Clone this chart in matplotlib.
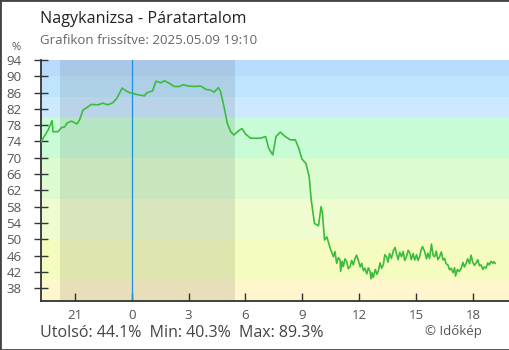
import numpy as np
import matplotlib
matplotlib.use("Agg")
from matplotlib import pyplot as plt
from matplotlib.patches import Rectangle

plt.rcParams['font.family'] = ['Open Sans', 'DejaVu Sans']

# hours relative to midnight of 2025.05.09 (negative = previous evening)
hours = [-4.83, -4.67, -4.41, -4.20, -4.15, -3.88, -3.71, -3.53, -3.41, -3.18,
         -3.01, -2.89, -2.75, -2.57, -2.31, -2.13, -1.78, -1.52, -1.26, -1.00,
         -0.79, -0.50, -0.29, -0.12, 0.14, 0.40, 0.67, 0.76, 0.93, 1.10,
         1.28, 1.54, 1.72, 1.98, 2.24, 2.50, 2.71, 3.03, 3.29, 3.64,
         3.91, 4.17, 4.34, 4.57, 4.69, 4.87, 5.04, 5.22, 5.39, 5.56,
         5.74, 5.83, 6.01, 6.27, 6.53, 6.79, 7.06, 7.23, 7.44, 7.61,
         7.84, 8.10, 8.37, 8.63, 8.80, 8.98, 9.19, 9.36, 9.47, 9.64,
         9.85, 9.99, 10.06, 10.17, 10.29, 10.47, 10.64, 10.72, 10.81, 10.90,
         10.99, 11.02, 11.10, 11.16, 11.25, 11.34, 11.42, 11.52, 11.60, 11.69,
         11.78, 11.86, 11.95, 12.05, 12.13, 12.22, 12.30, 12.40, 12.48, 12.57,
         12.62, 12.68, 12.74, 12.85, 12.93, 13.00, 13.10, 13.18, 13.27, 13.35,
         13.44, 13.52, 13.60, 13.70, 13.80, 13.89, 13.96, 14.05, 14.14, 14.23,
         14.32, 14.40, 14.49, 14.58, 14.67, 14.75, 14.84, 14.93, 15.02, 15.10,
         15.19, 15.27, 15.34, 15.45, 15.55, 15.62, 15.71, 15.81, 15.90, 15.98,
         16.06, 16.15, 16.24, 16.33, 16.42, 16.50, 16.58, 16.68, 16.76, 16.85,
         16.95, 17.03, 17.08, 17.18, 17.28, 17.38, 17.47, 17.55, 17.64, 17.72,
         17.82, 17.90, 17.98, 18.07, 18.16, 18.25, 18.34, 18.43, 18.52, 18.60,
         18.69, 18.78, 18.86, 18.95, 19.05, 19.10, 19.17]
humidity = [73.6, 74.8, 76.8, 79.1, 76.4, 76.4, 77.4, 77.6, 78.5, 79.0,
            78.6, 78.3, 79.3, 81.7, 82.5, 83.1, 83.0, 83.4, 83.0, 83.5,
            84.6, 87.1, 86.4, 86.0, 85.7, 85.4, 85.2, 85.8, 86.2, 86.4,
            88.8, 88.4, 88.9, 88.3, 87.5, 87.5, 87.9, 87.6, 87.5, 87.6,
            86.8, 86.6, 86.1, 87.2, 86.2, 82.5, 78.5, 76.4, 75.6, 76.3,
            77.0, 77.1, 75.8, 74.8, 74.8, 74.8, 75.2, 72.3, 70.7, 75.2,
            76.3, 75.2, 74.4, 74.4, 72.5, 69.7, 68.6, 65.4, 59.6, 53.9,
            53.3, 58.0, 56.4, 49.8, 50.6, 47.8, 45.7, 47.0, 44.1, 45.5,
            44.9, 42.1, 44.6, 43.3, 45.2, 44.5, 42.8, 43.3, 44.8, 43.7,
            45.3, 46.1, 44.9, 43.2, 44.1, 42.3, 42.9, 41.5, 43.0, 42.1,
            40.3, 41.8, 40.6, 42.6, 41.4, 42.1, 44.2, 42.9, 43.7, 46.2,
            45.7, 44.4, 46.5, 45.3, 47.2, 48.0, 46.6, 45.0, 46.8, 45.7,
            47.0, 44.8, 45.7, 47.3, 46.6, 45.0, 46.5, 44.9, 46.2, 44.8,
            45.7, 47.5, 48.2, 47.0, 45.2, 46.6, 45.3, 48.8, 46.0, 45.7,
            47.1, 45.0, 45.7, 46.9, 44.9, 45.3, 44.0, 43.7, 42.5, 42.9,
            41.8, 43.0, 41.0, 42.6, 42.1, 42.9, 44.3, 43.2, 44.1, 45.2,
            44.0, 46.1, 44.5, 43.6, 44.1, 45.0, 43.5, 43.7, 42.6, 43.2,
            42.9, 44.2, 43.7, 44.6, 44.1, 44.5, 44.1]

band_edges = [0, 40, 50, 60, 70, 80, 85, 90, 100]
band_colors = ['#fef6cc', '#f6fcc0', '#eefcd0', '#dcfcd0', '#c8fcd6',
               '#cce9ff', '#bfe5fe', '#b9dcfc']

night_start, night_end = -3.79, 5.45
xticks = [-3, 0, 3, 6, 9, 12, 15, 18]
xlabels = ['21', '0', '3', '6', '9', '12', '15', '18']
yticks = list(range(38, 95, 4))

fig = plt.figure(figsize=(5.1, 3.5), dpi=100)
ax = fig.add_axes([40.7 / 510, 1 - 301 / 350, (509 - 40.7) / 510, (301 - 60) / 350])

for i in range(len(band_colors)):
    ax.axhspan(band_edges[i], band_edges[i + 1], color=band_colors[i], lw=0, zorder=0)
ax.axvspan(night_start, night_end, color='black', alpha=0.09, lw=0, zorder=1)
ax.axvline(0, color='#1e90e0', lw=0.9, zorder=2)
ax.plot(hours, humidity, color='#3cbc3c', lw=1.2, zorder=3)

ax.set_xlim(-4.8, 19.9)
ax.set_ylim(34.85, 94)
ax.set_xticks(xticks)
ax.set_xticklabels(xlabels)
ax.set_yticks(yticks)

for s in ['top', 'right']:
    ax.spines[s].set_visible(False)
for s in ['left', 'bottom']:
    ax.spines[s].set_color('#333333')
    ax.spines[s].set_linewidth(1.3)

ax.tick_params(axis='x', direction='in', length=6, width=1, color='#333333',
               labelsize=9.5, labelcolor='#555555', pad=6)
ax.tick_params(axis='y', direction='inout', length=9.5, width=1, color='#333333',
               labelsize=9.5, labelcolor='#555555', pad=9)

fig.text(16 / 510, 1 - 47 / 350, '%', fontsize=8, color='#555555', ha='center', va='center')
fig.text(40 / 510, 1 - 19 / 350, 'Nagykanizsa - Páratartalom', fontsize=11.6,
         color='#222222', va='center')
fig.text(40 / 510, 1 - 41 / 350, 'Grafikon frissítve: 2025.05.09 19:10', fontsize=9.5,
         color='#666666', va='center')
fig.text(40 / 510, 1 - 333 / 350, 'Utolsó: 44.1%  Min: 40.3%  Max: 89.3%', fontsize=11.5,
         color='#444444', va='center')
fig.text(453 / 510, 1 - 331 / 350, '© Időkép', fontsize=9.5, color='#555555',
         ha='center', va='center')

fig.patches.append(Rectangle((0, 0), 1, 1, transform=fig.transFigure, fill=False,
                             edgecolor='#444444', lw=2))

fig.savefig('out.png', dpi=100)
